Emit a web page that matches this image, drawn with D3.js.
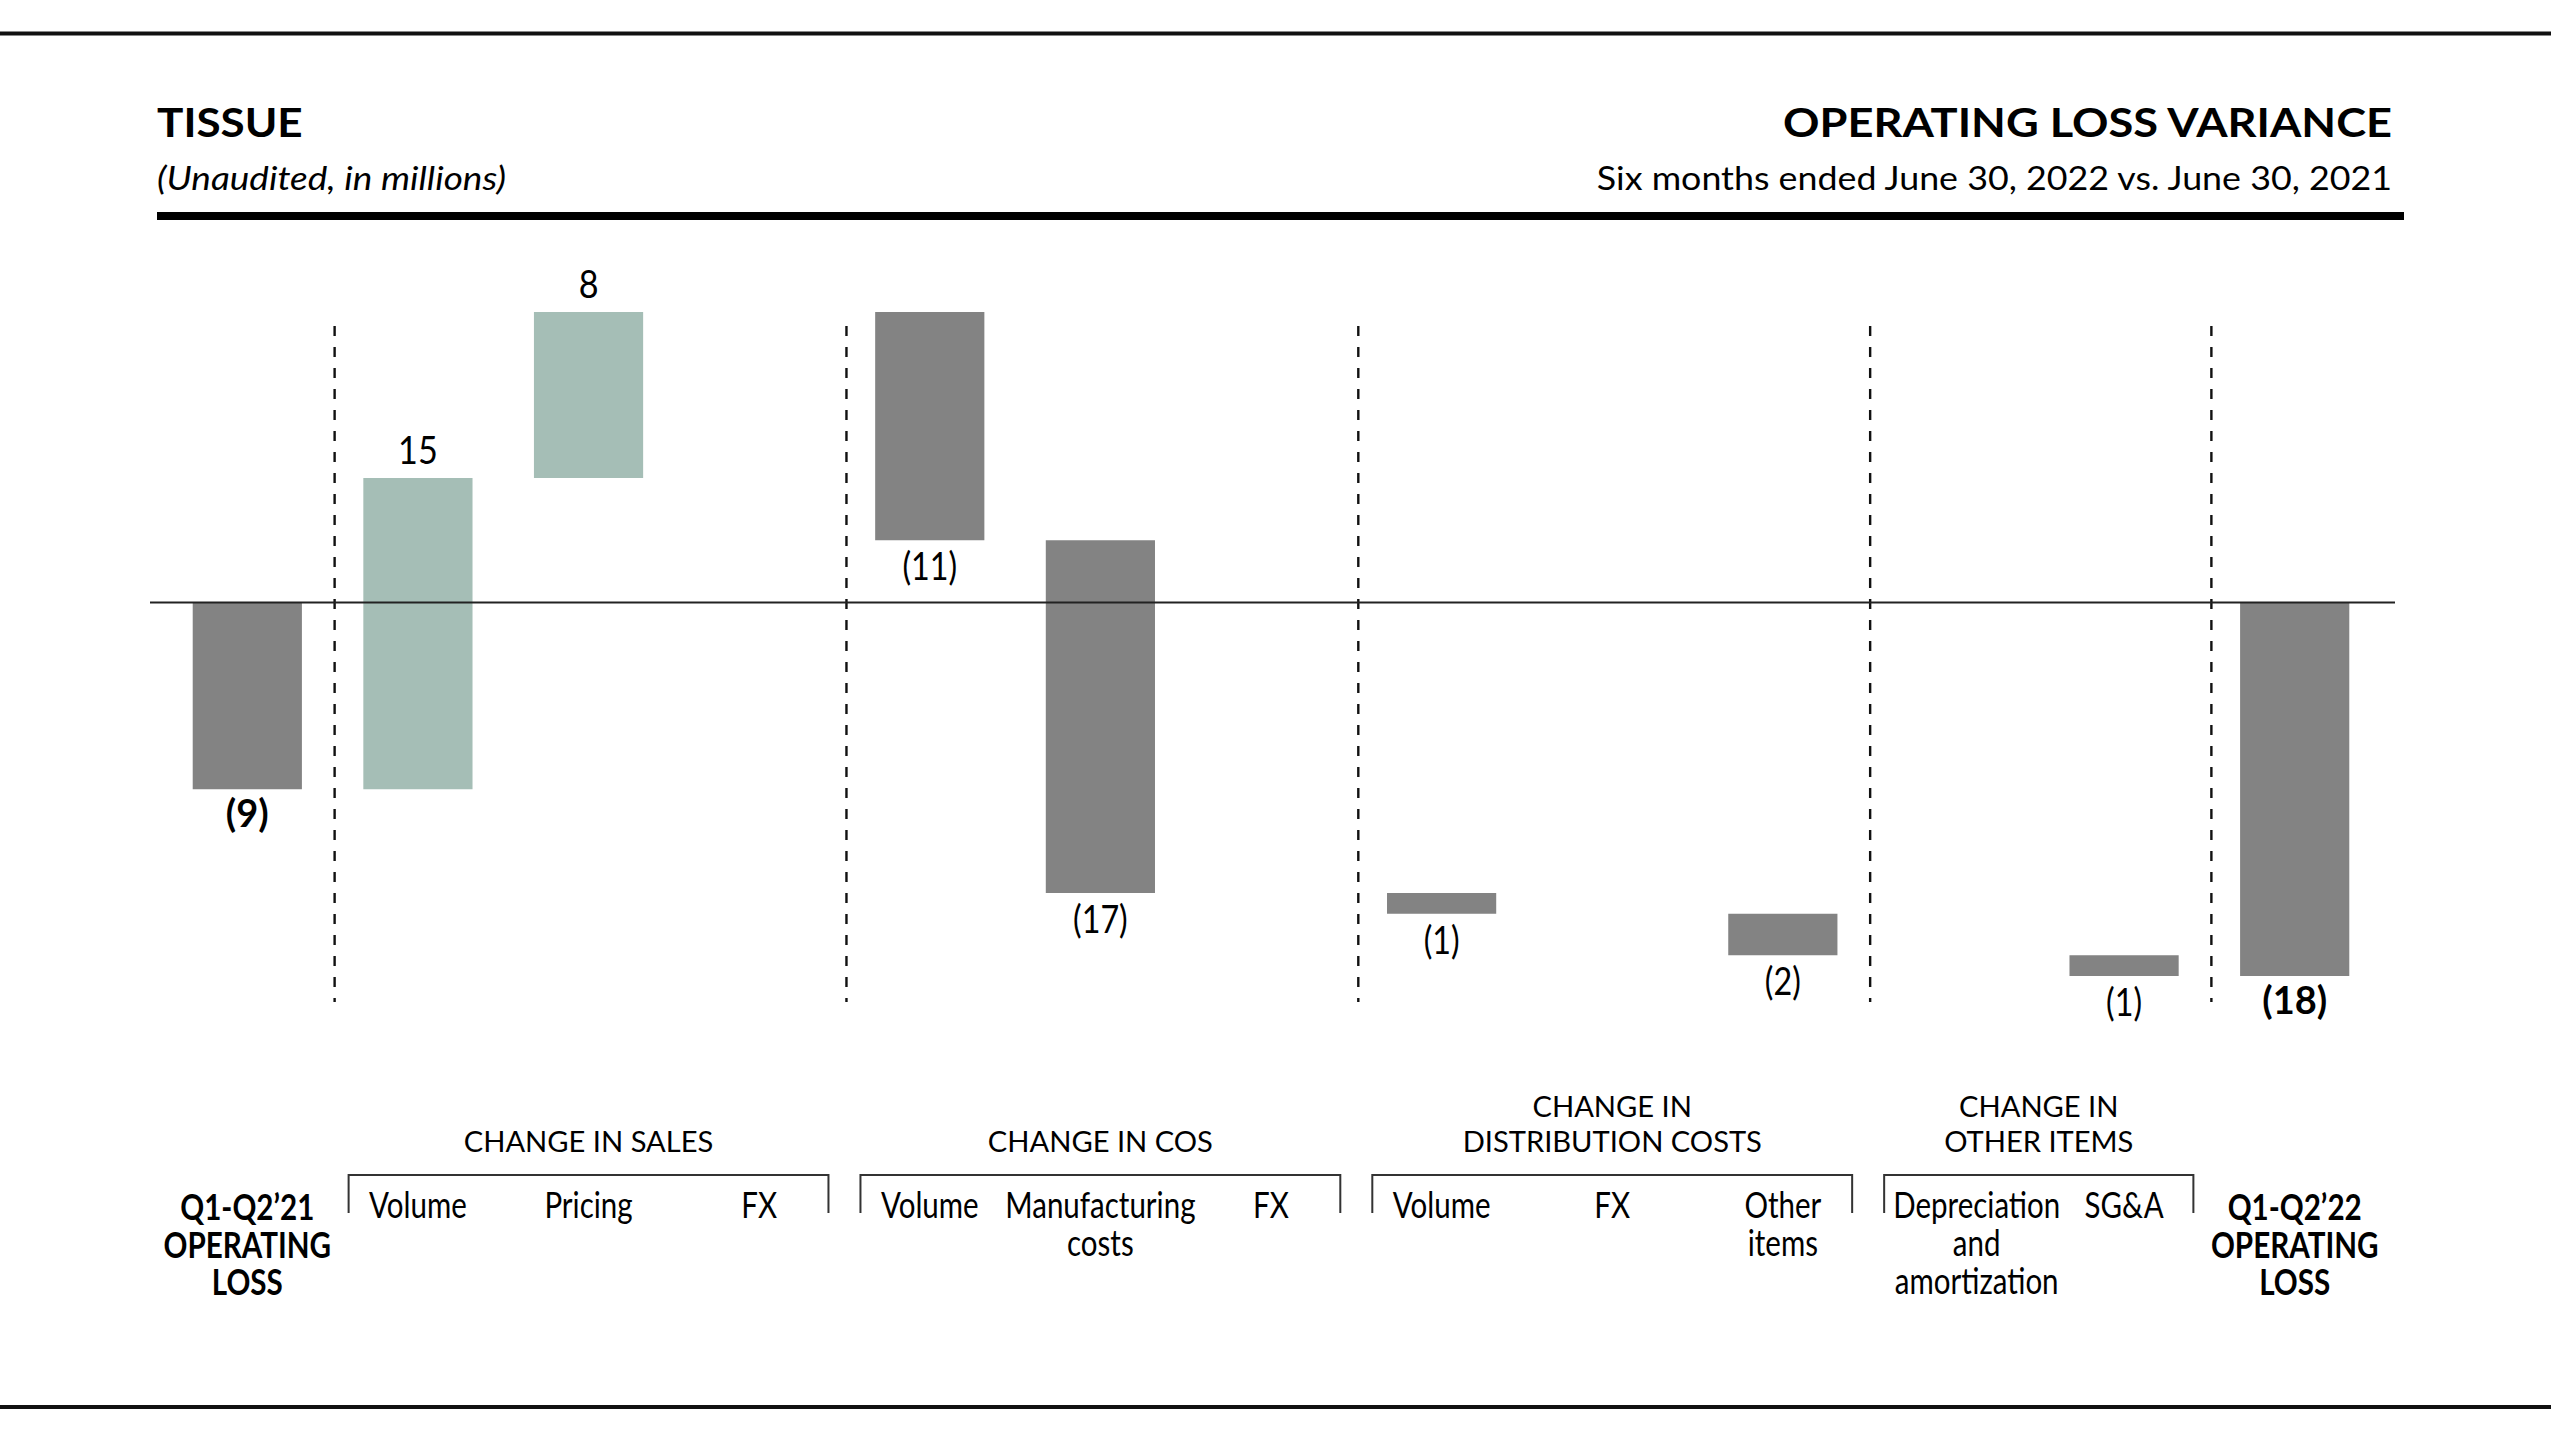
<!DOCTYPE html>
<html>
<head>
<meta charset="utf-8">
<script src="https://cdn.jsdelivr.net/npm/d3@7"></script>
<style>
  body { margin: 0; background: #fff; }
  svg text { font-family: Lato, "Open Sans", sans-serif; fill: #000; }
</style>
</head>
<body>
<div id="chart"></div>
<script>
// bars, left to right
const labels = [
  ["Q1-Q2’21", "OPERATING", "LOSS"],
  ["Volume"], ["Pricing"], ["FX"],
  ["Volume"], ["Manufacturing", "costs"], ["FX"],
  ["Volume"], ["FX"], ["Other", "items"],
  ["Depreciation", "and", "amortization"], ["SG&A"],
  ["Q1-Q2’22", "OPERATING", "LOSS"]
];
const values = [-9, 15, 8, 0, -11, -17, 0, -1, 0, -2, 0, -1, -18];
const isTotal = [true, false, false, false, false, false, false, false, false, false, false, false, true];

// bracket groups under the bars
const groupNames = [["CHANGE IN SALES"], ["CHANGE IN COS"], ["CHANGE IN", "DISTRIBUTION COSTS"], ["CHANGE IN", "OTHER ITEMS"]];
const groupFirst = [1, 4, 7, 10];
const groupLast = [3, 6, 9, 11];

const title = "TISSUE";
const subtitle = "(Unaudited, in millions)";
const rightTitle = "OPERATING LOSS VARIANCE";
const rightSubtitle = "Six months ended June 30, 2022 vs. June 30, 2021";

const width = 2551, height = 1434;
const green = '#a5beb6', gray = '#838383';

const svg = d3.select('#chart').append('svg')
    .attr('width', width)
    .attr('height', height);

svg.append('rect').attr('width', width).attr('height', height).attr('fill', '#fff');

// text helper; sx squeezes/stretches glyphs to get closer to the original typeface widths
function addText(parent, x, y, str, o) {
  return parent.append('text')
      .attr('transform', `translate(${x},${y}) scale(${o.sx || 1},1)`)
      .attr('text-anchor', o.anchor || 'middle')
      .style('font-size', o.size + 'px')
      .style('font-weight', o.weight || 400)
      .style('font-style', o.italic ? 'italic' : 'normal')
      .text(str);
}

// page rules
svg.append('rect').attr('x', 0).attr('y', 31.5).attr('width', width).attr('height', 4).attr('fill', '#111');
svg.append('rect').attr('x', 0).attr('y', 1405).attr('width', width).attr('height', 4).attr('fill', '#111');
svg.append('rect').attr('x', 157).attr('y', 212).attr('width', 2247).attr('height', 8).attr('fill', '#000');

// header
addText(svg, 157, 137, title, {size: 40, weight: 700, anchor: 'start', sx: 1.1});
addText(svg, 157, 190, subtitle, {size: 33, italic: true, anchor: 'start', sx: 1.12});
addText(svg, 2392, 137, rightTitle, {size: 40, weight: 700, anchor: 'end', sx: 1.13});
addText(svg, 2392, 190, rightSubtitle, {size: 33, anchor: 'end', sx: 1.085});

// waterfall steps
let run = 0;
const bars = values.map((v, i) => {
  let y0, y1;
  if (isTotal[i]) { y0 = 0; y1 = v; }
  else { y0 = run; y1 = run + v; }
  run = y1;
  return {i, v, y0, y1, total: isTotal[i]};
});

const x = d3.scaleBand()
    .domain(d3.range(values.length))
    .range([162, 2380])
    .paddingInner(0.36)
    .paddingOuter(0.18);

const y = d3.scaleLinear()
    .domain([d3.min(bars, d => Math.min(d.y0, d.y1)), d3.max(bars, d => Math.max(d.y0, d.y1))])
    .range([976, 312]);

const cx = i => x(i) + x.bandwidth() / 2;
const chart = svg.append('g');

// dashed separators: after the opening total and after each group
const dividers = [groupFirst[0] - 1, ...groupLast];
chart.selectAll('line.divider')
    .data(dividers)
  .join('line')
    .attr('class', 'divider')
    .attr('x1', d => cx(d) + x.step() / 2 + 2)
    .attr('x2', d => cx(d) + x.step() / 2 + 2)
    .attr('y1', 326)
    .attr('y2', 1002)
    .attr('stroke', '#111')
    .attr('stroke-width', 2.4)
    .attr('stroke-dasharray', '10,11');

// bars
const shown = bars.filter(d => d.v !== 0);
chart.selectAll('rect.bar')
    .data(shown)
  .join('rect')
    .attr('class', 'bar')
    .attr('x', d => x(d.i))
    .attr('width', x.bandwidth())
    .attr('y', d => y(Math.max(d.y0, d.y1)))
    .attr('height', d => Math.abs(y(d.y0) - y(d.y1)))
    .attr('fill', d => (!d.total && d.v > 0) ? green : gray);

// zero line
chart.append('line')
    .attr('x1', 150).attr('x2', 2395)
    .attr('y1', y(0)).attr('y2', y(0))
    .attr('stroke', '#222')
    .attr('stroke-width', 2);

// value labels
shown.forEach(d => {
  if (d.v > 0) {
    addText(chart, cx(d.i), y(Math.max(d.y0, d.y1)) - 14, String(d.v), {size: 38, sx: 0.9});
  } else {
    const yb = y(Math.min(d.y0, d.y1));
    addText(chart, cx(d.i), yb + (d.total ? 38 : 40), `(${-d.v})`,
        d.total ? {size: 38, weight: 700} : {size: 38, sx: 0.85});
  }
});

// group brackets and headers
const bracketLeft = groupFirst.map(f => cx(f) - x.step() / 2 + 16);
const bracketRight = groupLast.map(l => cx(l) + x.step() / 2 - 16);
groupNames.forEach((name, g) => {
  const l = bracketLeft[g], r = bracketRight[g];
  chart.append('path')
      .attr('d', `M${l},1213V1175H${r}V1213`)
      .attr('fill', 'none')
      .attr('stroke', '#333')
      .attr('stroke-width', 2);
  name.forEach((line, k) => {
    addText(chart, (l + r) / 2, 1152 - (name.length - 1 - k) * 35, line, {size: 28, sx: 1.04});
  });
});

// category labels
labels.forEach((lines, i) => {
  if (isTotal[i]) {
    lines.forEach((line, k) => {
      addText(chart, cx(i), 1220 + k * 37.5, line, {size: 37, weight: 700, sx: 0.8});
    });
    return;
  }
  const g = groupFirst.findIndex((f, k) => i >= f && i <= groupLast[k]);
  const texts = lines.map((line, k) => addText(chart, cx(i), 1218 + k * 38, line, {size: 36, sx: 0.82}));
  // keep the whole block inside its bracket
  const w = d3.max(texts, t => t.node().getComputedTextLength() * 0.82);
  if (cx(i) - w / 2 < bracketLeft[g] + 9) {
    const c = bracketLeft[g] + 9 + w / 2;
    texts.forEach((t, k) => t.attr('transform', `translate(${c},${1218 + k * 38}) scale(0.82,1)`));
  }
});
</script>
</body>
</html>
